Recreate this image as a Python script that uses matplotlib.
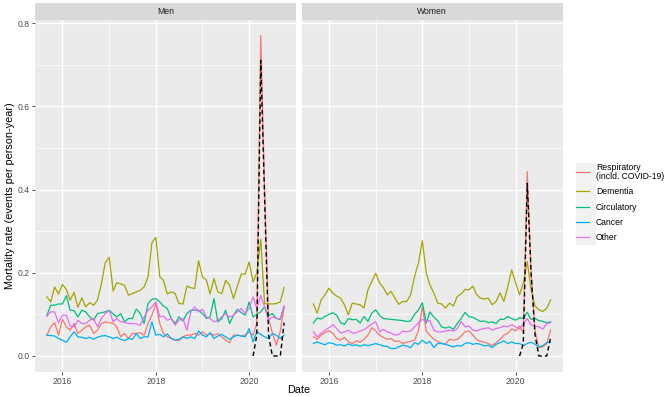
import matplotlib
matplotlib.use('Agg')
import matplotlib.pyplot as plt
import matplotlib.dates as mdates
from matplotlib.lines import Line2D
from matplotlib.patches import Rectangle
import pandas as pd
import numpy as np

plt.rcParams['font.family'] = ['Liberation Sans', 'DejaVu Sans']

# ---------------- data ----------------
start_month = '2015-09-01'
n_months = 62
covid_start = '2020-02-01'

panels = ['Men', 'Women']
categories = ['Respiratory\n(incld. COVID-19)', 'Dementia', 'Circulatory', 'Cancer', 'Other']
colors = ['#F8766D', '#A3A500', '#00BF7D', '#00B0F6', '#E76BF3']

men_respiratory = [0.050, 0.070, 0.080, 0.050, 0.088, 0.070, 0.062, 0.078, 0.054, 0.062,
                   0.070, 0.074, 0.054, 0.062, 0.078, 0.082, 0.080, 0.078, 0.070, 0.046,
                   0.054, 0.042, 0.054, 0.054, 0.056, 0.050, 0.078, 0.098, 0.126, 0.078,
                   0.054, 0.046, 0.042, 0.038, 0.037, 0.046, 0.050, 0.050, 0.054, 0.050,
                   0.058, 0.050, 0.054, 0.050, 0.054, 0.046, 0.038, 0.032, 0.050, 0.050,
                   0.048, 0.050, 0.058, 0.050, 0.078, 0.770, 0.400, 0.090, 0.055, 0.026,
                   0.060, 0.118]
men_dementia = [0.142, 0.130, 0.166, 0.149, 0.172, 0.160, 0.134, 0.153, 0.117, 0.140,
                0.118, 0.128, 0.122, 0.134, 0.174, 0.224, 0.237, 0.156, 0.176, 0.173,
                0.170, 0.146, 0.150, 0.154, 0.158, 0.166, 0.190, 0.272, 0.285, 0.190,
                0.182, 0.149, 0.154, 0.150, 0.126, 0.125, 0.168, 0.164, 0.162, 0.229,
                0.190, 0.182, 0.149, 0.186, 0.154, 0.150, 0.182, 0.170, 0.138, 0.168,
                0.197, 0.197, 0.226, 0.178, 0.200, 0.280, 0.126, 0.125, 0.125, 0.126,
                0.130, 0.165]
men_circulatory = [0.097, 0.122, 0.122, 0.125, 0.125, 0.145, 0.110, 0.109, 0.094, 0.110,
                   0.106, 0.094, 0.086, 0.102, 0.104, 0.106, 0.110, 0.101, 0.094, 0.102,
                   0.082, 0.090, 0.090, 0.113, 0.102, 0.078, 0.126, 0.136, 0.138, 0.130,
                   0.120, 0.114, 0.090, 0.078, 0.094, 0.084, 0.102, 0.110, 0.110, 0.110,
                   0.102, 0.090, 0.094, 0.138, 0.082, 0.090, 0.110, 0.078, 0.098, 0.112,
                   0.104, 0.098, 0.130, 0.094, 0.100, 0.106, 0.118, 0.097, 0.102, 0.090,
                   0.088, 0.118]
men_cancer = [0.050, 0.049, 0.048, 0.042, 0.038, 0.033, 0.046, 0.058, 0.046, 0.045,
              0.042, 0.045, 0.040, 0.045, 0.048, 0.049, 0.046, 0.042, 0.045, 0.040,
              0.037, 0.042, 0.040, 0.054, 0.042, 0.046, 0.046, 0.082, 0.050, 0.052,
              0.046, 0.053, 0.042, 0.038, 0.040, 0.046, 0.042, 0.046, 0.042, 0.060,
              0.050, 0.046, 0.056, 0.042, 0.048, 0.052, 0.046, 0.040, 0.046, 0.050,
              0.048, 0.046, 0.066, 0.034, 0.058, 0.052, 0.046, 0.042, 0.054, 0.050,
              0.042, 0.050]
men_other = [0.096, 0.106, 0.106, 0.080, 0.098, 0.098, 0.072, 0.070, 0.086, 0.078,
             0.078, 0.086, 0.090, 0.070, 0.090, 0.102, 0.109, 0.082, 0.090, 0.082,
             0.081, 0.078, 0.078, 0.077, 0.074, 0.094, 0.110, 0.118, 0.130, 0.094,
             0.096, 0.086, 0.090, 0.074, 0.086, 0.090, 0.062, 0.106, 0.118, 0.106,
             0.112, 0.094, 0.090, 0.082, 0.086, 0.094, 0.102, 0.094, 0.098, 0.106,
             0.114, 0.102, 0.114, 0.142, 0.114, 0.146, 0.118, 0.086, 0.094, 0.090,
             0.090, 0.120]
men_covid = [0.0, 0.05, 0.71, 0.38, 0.05, 0.0, 0.0, 0.0, 0.08]

women_respiratory = [0.046, 0.040, 0.050, 0.056, 0.061, 0.054, 0.042, 0.038, 0.045, 0.034,
                     0.030, 0.036, 0.033, 0.040, 0.050, 0.068, 0.060, 0.050, 0.045, 0.040,
                     0.042, 0.035, 0.036, 0.030, 0.033, 0.035, 0.038, 0.060, 0.118, 0.060,
                     0.050, 0.040, 0.035, 0.030, 0.028, 0.040, 0.038, 0.040, 0.048, 0.058,
                     0.060, 0.050, 0.040, 0.035, 0.033, 0.030, 0.025, 0.032, 0.040, 0.050,
                     0.055, 0.065, 0.060, 0.072, 0.055, 0.443, 0.200, 0.060, 0.020, 0.022,
                     0.030, 0.062]
women_dementia = [0.125, 0.103, 0.135, 0.147, 0.163, 0.151, 0.144, 0.139, 0.123, 0.099,
                  0.127, 0.125, 0.123, 0.115, 0.159, 0.179, 0.199, 0.175, 0.165, 0.147,
                  0.155, 0.139, 0.124, 0.131, 0.131, 0.147, 0.191, 0.223, 0.277, 0.199,
                  0.171, 0.151, 0.127, 0.125, 0.115, 0.127, 0.120, 0.143, 0.149, 0.160,
                  0.159, 0.168, 0.148, 0.139, 0.137, 0.139, 0.123, 0.131, 0.152, 0.131,
                  0.167, 0.207, 0.176, 0.147, 0.175, 0.227, 0.159, 0.120, 0.111, 0.107,
                  0.115, 0.135]
women_circulatory = [0.079, 0.091, 0.089, 0.095, 0.100, 0.104, 0.098, 0.080, 0.076, 0.090,
                     0.087, 0.088, 0.079, 0.095, 0.083, 0.103, 0.111, 0.097, 0.090, 0.089,
                     0.088, 0.087, 0.086, 0.085, 0.083, 0.084, 0.100, 0.110, 0.128, 0.079,
                     0.106, 0.093, 0.085, 0.070, 0.067, 0.070, 0.064, 0.078, 0.090, 0.105,
                     0.094, 0.093, 0.088, 0.083, 0.084, 0.080, 0.082, 0.078, 0.088, 0.088,
                     0.095, 0.090, 0.086, 0.092, 0.090, 0.105, 0.088, 0.090, 0.085, 0.083,
                     0.080, 0.082]
women_cancer = [0.030, 0.034, 0.030, 0.027, 0.032, 0.030, 0.026, 0.027, 0.024, 0.029,
                0.025, 0.027, 0.023, 0.027, 0.025, 0.027, 0.030, 0.027, 0.024, 0.023,
                0.018, 0.018, 0.022, 0.026, 0.024, 0.020, 0.032, 0.028, 0.038, 0.030,
                0.035, 0.020, 0.030, 0.030, 0.028, 0.025, 0.022, 0.025, 0.024, 0.030,
                0.032, 0.028, 0.030, 0.028, 0.024, 0.026, 0.020, 0.028, 0.032, 0.036,
                0.030, 0.034, 0.030, 0.030, 0.025, 0.030, 0.033, 0.028, 0.022, 0.025,
                0.032, 0.034]
women_other = [0.058, 0.046, 0.054, 0.062, 0.068, 0.075, 0.066, 0.055, 0.058, 0.062,
               0.055, 0.056, 0.060, 0.063, 0.070, 0.077, 0.082, 0.058, 0.064, 0.058,
               0.055, 0.050, 0.052, 0.060, 0.058, 0.060, 0.070, 0.080, 0.088, 0.084,
               0.085, 0.062, 0.058, 0.058, 0.060, 0.062, 0.060, 0.065, 0.083, 0.070,
               0.072, 0.062, 0.060, 0.064, 0.066, 0.068, 0.062, 0.066, 0.068, 0.072,
               0.070, 0.075, 0.070, 0.065, 0.078, 0.090, 0.075, 0.072, 0.070, 0.065,
               0.078, 0.080]
women_covid = [0.0, 0.03, 0.415, 0.20, 0.05, 0.0, 0.0, 0.0, 0.045]

y_ticks = [0.0, 0.2, 0.4, 0.6, 0.8]
y_minor = [0.1, 0.3, 0.5, 0.7]
x_tick_years = [2016, 2018, 2020]
x_minor_years = [2017, 2019]

# ---------------- figure ----------------
W, H = 666, 397
fig = plt.figure(figsize=(W / 100, H / 100), dpi=100)
fig.patch.set_facecolor('white')


def rect(x0, y0, x1, y1):
    return [x0 / W, 1 - y1 / H, (x1 - x0) / W, (y1 - y0) / H]


dates = pd.date_range(start_month, periods=n_months, freq='MS')
covid_dates = pd.date_range(covid_start, periods=len(men_covid), freq='MS')
span = dates[-1] - dates[0]
xlim = (dates[0] - span * 0.05, dates[-1] + span * 0.05)
ylim = (-0.0385, 0.8075)

series = {
    'Men': [men_respiratory, men_dementia, men_circulatory, men_cancer, men_other, men_covid],
    'Women': [women_respiratory, women_dementia, women_circulatory, women_cancer, women_other, women_covid],
}

panel_x = {'Men': (35, 296), 'Women': (301.5, 562.5)}
tick_col = '#4D4D4D'

for i, p in enumerate(panels):
    x0, x1 = panel_x[p]
    ax = fig.add_axes(rect(x0, 20, x1, 372))
    ax.set_facecolor('#EBEBEB')
    for s in ax.spines.values():
        s.set_visible(False)
    vals = series[p]
    for k in range(5):
        ax.plot(dates, vals[k], color=colors[k], lw=0.9, solid_joinstyle='round', zorder=3)
    ax.plot(covid_dates, vals[5], color='black', lw=1.0, ls=(0, (3.2, 2.2)), zorder=4)
    ax.set_xlim(xlim)
    ax.set_ylim(ylim)
    ax.set_yticks(y_ticks)
    ax.set_yticks(y_minor, minor=True)
    ax.set_xticks([pd.Timestamp(f'{y}-01-01') for y in x_tick_years])
    ax.set_xticks([pd.Timestamp(f'{y}-01-01') for y in x_minor_years], minor=True)
    ax.set_xticklabels([str(y) for y in x_tick_years])
    ax.grid(which='major', color='white', lw=1.0, zorder=0)
    ax.grid(which='minor', color='white', lw=0.5, zorder=0)
    ax.set_axisbelow(True)
    ax.tick_params(which='major', length=2.2, width=0.6, color='#333333',
                   labelsize=6.2, labelcolor=tick_col, pad=1.5)
    ax.tick_params(which='minor', length=0)
    if i == 0:
        ax.set_yticklabels([f'{v:.1f}' for v in y_ticks])
    else:
        ax.tick_params(axis='y', which='both', left=False, labelleft=False)
    # strip
    sax = fig.add_axes(rect(x0, 3, x1, 20))
    sax.set_facecolor('#D9D9D9')
    sax.set_xticks([])
    sax.set_yticks([])
    for s in sax.spines.values():
        s.set_visible(False)
    sax.text(0.5, 0.5, p, ha='center', va='center', fontsize=6.2, color='#1A1A1A',
             transform=sax.transAxes)

fig.text(298.5 / W, 1 - 390 / H, 'Date', ha='center', va='center', fontsize=7.8, color='black')
fig.text(10 / W, 1 - 196 / H, 'Mortality rate (events per person-year)', ha='center', va='center',
         rotation=90, fontsize=7.8, color='black')

# legend
fig.patches.append(Rectangle((576 / W, 1 - 245 / H), 20 / W, 82 / H, transform=fig.transFigure,
                             facecolor='#F2F2F2', edgecolor='none', zorder=0))
handles = [Line2D([0], [0], color=c, lw=0.9) for c in colors]
leg = fig.legend(handles, categories, loc='upper left', bbox_to_anchor=(576 / W, 1 - 163 / H),
                 frameon=False, fontsize=6.2, handlelength=1.55, handletextpad=0.75,
                 labelspacing=0.75, borderaxespad=0, borderpad=0)
for t in leg.get_texts():
    t.set_linespacing(0.95)

fig.savefig('out.png', dpi=100)
